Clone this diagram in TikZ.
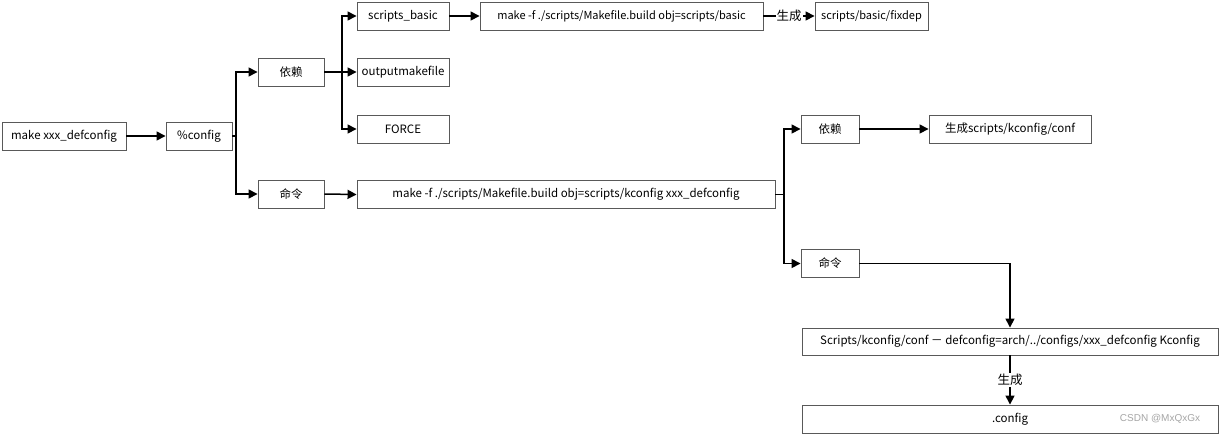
\documentclass[tikz,border=0pt]{standalone}
\usepackage{fontspec}
\setmainfont{Noto Sans CJK SC}
\newfontfamily\wmfont{Liberation Sans}
\usetikzlibrary{arrows.meta}
\tikzset{
  box/.style={draw=black!65, line width=0.9pt, fill=white, minimum height=28pt, inner sep=0pt, font=\fontsize{11.5}{13}\selectfont},
  smallbox/.style={box, font=\fontsize{11}{13}\selectfont},
  conn/.style={line width=1.5pt, black},
  arr/.style={conn, -{Triangle[length=9pt,width=9pt]}},
  lbl/.style={fill=white, inner sep=1pt, font=\fontsize{12.5}{14}\selectfont},
}
\begin{document}
\begin{tikzpicture}[x=1pt,y=-1pt]
\useasboundingbox (0,0) rectangle (1220,434);
\node[box, minimum width=124pt] (A) at (64,136) {make xxx\_defconfig};
\node[box, minimum width=66pt] (B) at (199,136) {\%config};
\node[box, minimum width=66pt] (C) at (291,72) {依赖};
\node[box, minimum width=66pt] (D) at (291,194) {命令};
\node[box, minimum width=92pt] (E) at (403,16) {scripts\_basic};
\node[box, minimum width=92pt] (F) at (403,72) {outputmakefile};
\node[box, minimum width=92pt] (G) at (403,129) {FORCE};
\node[smallbox, minimum width=283pt] (H) at (621.5,16) {make -f ./scripts/Makefile.build obj=scripts/basic};
\node[smallbox, minimum width=113pt] (I) at (871.5,16) {scripts/basic/fixdep};
\node[box, minimum width=418pt] (J) at (566,194.5) {make -f ./scripts/Makefile.build obj=scripts/kconfig xxx\_defconfig};
\node[box, minimum width=58pt] (K) at (830,129) {依赖};
\node[box, minimum width=162pt] (L) at (1010,129) {生成scripts/kconfig/conf};
\node[box, minimum width=58pt] (M) at (830,263.5) {命令};
\node[box, minimum width=416pt, minimum height=27pt] (N) at (1010,341.5) {Scripts/kconfig/conf － defconfig=arch/../configs/xxx\_defconfig Kconfig};
\node[box, minimum width=416pt] (O) at (1010,419) {.config};
\node[text=black!35, font=\wmfont\fontsize{10}{12}\selectfont] (W) at (1160,419) {CSDN @MxQxGx};

\coordinate (j1) at (236,136);
\coordinate (j2) at (342,72);
\coordinate (j3) at (784,194.5);

\draw[arr] (A.east) -- (B.west);
\draw[conn] (B.east) -- (j1);
\draw[arr] (j1) |- (C.west);
\draw[arr] (j1) |- (D.west);
\draw[conn] (C.east) -- (j2);
\draw[arr] (j2) |- (E.west);
\draw[arr] (j2) -- (F.west);
\draw[arr] (j2) |- (G.west);
\draw[arr] (D.east) -- (J.west);
\draw[arr] (E.east) -- (H.west);
\draw[arr] (H.east) -- node[lbl] {生成} (I.west);
\draw[conn] (J.east) -- (j3);
\draw[arr] (j3) |- (K.west);
\draw[arr] (j3) |- (M.west);
\draw[arr] (K.east) -- (L.west);
\draw[arr] (M.east) -| (N.north);
\draw[arr] (N.south) -- node[lbl] {生成} (O.north);
\end{tikzpicture}
\end{document}
